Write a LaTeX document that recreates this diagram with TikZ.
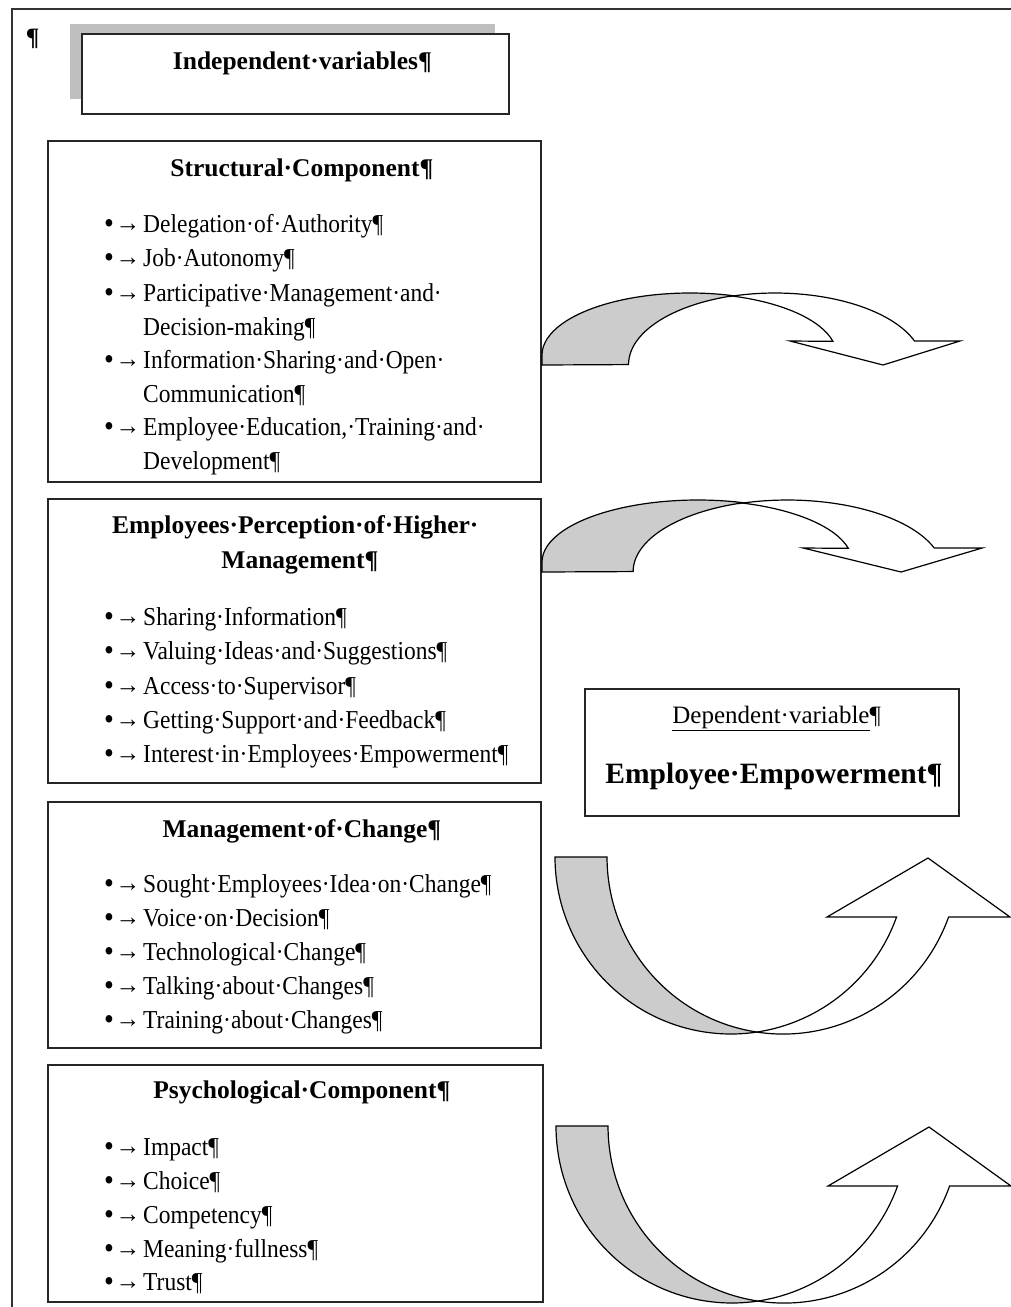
\documentclass[tikz,border=0pt]{standalone}
\usepackage{fontspec}
\usepackage{graphicx}
\setmainfont{Liberation Serif}
\newfontfamily\itemfont{Liberation Serif}[FakeStretch=0.91]

\tikzset{
  panel/.style={line width=1.6pt, draw=black!85, fill=white},
  frame/.style={line width=1.4pt, draw=black!80},
  head/.style={anchor=base, inner sep=0pt, font=\bfseries\fontsize{25.5}{30}\selectfont},
  item/.style={anchor=base west, inner sep=0pt, font=\itemfont\fontsize{25.8}{30}\selectfont},
  ribbonback/.style={line width=1.2pt, draw=black, fill=gray!40},
  ribbonfront/.style={line width=1.2pt, draw=black, fill=white}
}

% bullet and tab mark in front of an item
\newcommand{\tabmark}{\makebox[41pt][l]{\hspace{2pt}\raisebox{-1.2pt}{\scalebox{1.2}{•}}\hspace{1.5pt}\raisebox{1pt}{\scalebox{1.05}[1]{→}}}}

% curved arrow over the top, origin at lower left of its base
\newcommand{\downribbon}{%
  \filldraw[ribbonback] (0,0) -- (0,-10)
    arc[start angle=180, end angle=287, x radius=148, y radius=62]
    arc[start angle=253, end angle=180, x radius=148, y radius=72] -- cycle;
  \filldraw[ribbonfront] (190,-69)
    arc[start angle=287, end angle=347, x radius=148, y radius=62]
    -- (248,-24) -- (341,0) -- (418,-24) -- (372.5,-24)
    arc[start angle=340.5, end angle=253, x radius=148, y radius=72] -- cycle;
}

% curved arrow under the bottom, origin at upper left of its base
\newcommand{\upribbon}{%
  \filldraw[ribbonback] (0,0)
    arc[start angle=180, end angle=81.5, x radius=176, y radius=177]
    arc[start angle=98.5, end angle=180, x radius=176, y radius=177] -- cycle;
  \filldraw[ribbonfront] (202,175)
    arc[start angle=81.5, end angle=19.8, x radius=176, y radius=177]
    -- (272,60) -- (373,1) -- (455,60) -- (393.6,60)
    arc[start angle=19.8, end angle=98.5, x radius=176, y radius=177] -- cycle;
}

\begin{document}
\begin{tikzpicture}[x=1pt,y=-1pt]

	%Background
	\fill[white] (0,0) rectangle (1011,1307);
	\useasboundingbox (0,0) rectangle (1011,1307);

	%Frame
	\draw[frame] (12,1307) -- (12,9) -- (1011,9);
	\node[anchor=base, inner sep=0pt, font=\bfseries\fontsize{25}{28}\selectfont] (mark) at (32.5,45) {¶};

	%Independent variables
	\fill[gray!50] (70,24) rectangle (495,99);
	\draw[panel] (82,34) rectangle (509,114);
	\node[head] (indep) at (295.5,69) {Independent·variables\rlap{¶}};

	%Structural component
	\draw[panel] (48,141) rectangle (541,482);
	\node[head] (struct) at (295,176) {Structural·Component\rlap{¶}};
	\node[item] (s1) at (102,232) {\tabmark Delegation·of·Authority¶};
	\node[item] (s2) at (102,266) {\tabmark Job·Autonomy¶};
	\node[item] (s3) at (102,301) {\tabmark Participative·Management·and·};
	\node[item] (s3b) at (143,335) {Decision-making¶};
	\node[item] (s4) at (102,368) {\tabmark Information·Sharing·and·Open·};
	\node[item] (s4b) at (143,402) {Communication¶};
	\node[item] (s5) at (102,435) {\tabmark Employee·Education,·Training·and·};
	\node[item] (s5b) at (143,469) {Development¶};

	%Perception of higher management
	\draw[panel] (48,499) rectangle (541,783);
	\node[head] (percep) at (291,533) {Employees·Perception·of·Higher\rlap{·}};
	\node[head] (percepb) at (293,568) {Management\rlap{¶}};
	\node[item] (p1) at (102,625) {\tabmark Sharing·Information¶};
	\node[item] (p2) at (102,659) {\tabmark Valuing·Ideas·and·Suggestions¶};
	\node[item] (p3) at (102,694) {\tabmark Access·to·Supervisor¶};
	\node[item] (p4) at (102,728) {\tabmark Getting·Support·and·Feedback¶};
	\node[item] (p5) at (102,762) {\tabmark Interest·in·Employees·Empowerment¶};

	%Management of change
	\draw[panel] (48,802) rectangle (541,1048);
	\node[head] (change) at (295,837) {Management·of·Change\rlap{¶}};
	\node[item] (c1) at (102,892) {\tabmark Sought·Employees·Idea·on·Change¶};
	\node[item] (c2) at (102,926) {\tabmark Voice·on·Decision¶};
	\node[item] (c3) at (102,960) {\tabmark Technological·Change¶};
	\node[item] (c4) at (102,994) {\tabmark Talking·about·Changes¶};
	\node[item] (c5) at (102,1028) {\tabmark Training·about·Changes¶};

	%Psychological component
	\draw[panel] (48,1065) rectangle (543,1302);
	\node[head] (psych) at (295,1098) {Psychological·Component\rlap{¶}};
	\node[item] (y1) at (102,1155) {\tabmark Impact¶};
	\node[item] (y2) at (102,1189) {\tabmark Choice¶};
	\node[item] (y3) at (102,1223) {\tabmark Competency¶};
	\node[item] (y4) at (102,1257) {\tabmark Meaning·fullness¶};
	\node[item] (y5) at (102,1290) {\tabmark Trust¶};

	%Dependent variable
	\draw[panel] (585,689) rectangle (959,816);
	\node[anchor=base, inner sep=0pt, font=\fontsize{25}{30}\selectfont] (dep) at (771,723) {\underline{Dependent·variable}\rlap{¶}};
	\node[anchor=base, inner sep=0pt, font=\bfseries\fontsize{29.5}{34}\selectfont] (empow) at (766,783) {Employee·Empowerment\rlap{¶}};

	%Curved arrows
	\begin{scope}[shift={(542,365)}]
		\downribbon
	\end{scope}
	\begin{scope}[shift={(542,572)}, xscale=1.053]
		\downribbon
	\end{scope}
	\begin{scope}[shift={(555,857)}]
		\upribbon
	\end{scope}
	\begin{scope}[shift={(556,1126)}]
		\upribbon
	\end{scope}

\end{tikzpicture}
\end{document}
